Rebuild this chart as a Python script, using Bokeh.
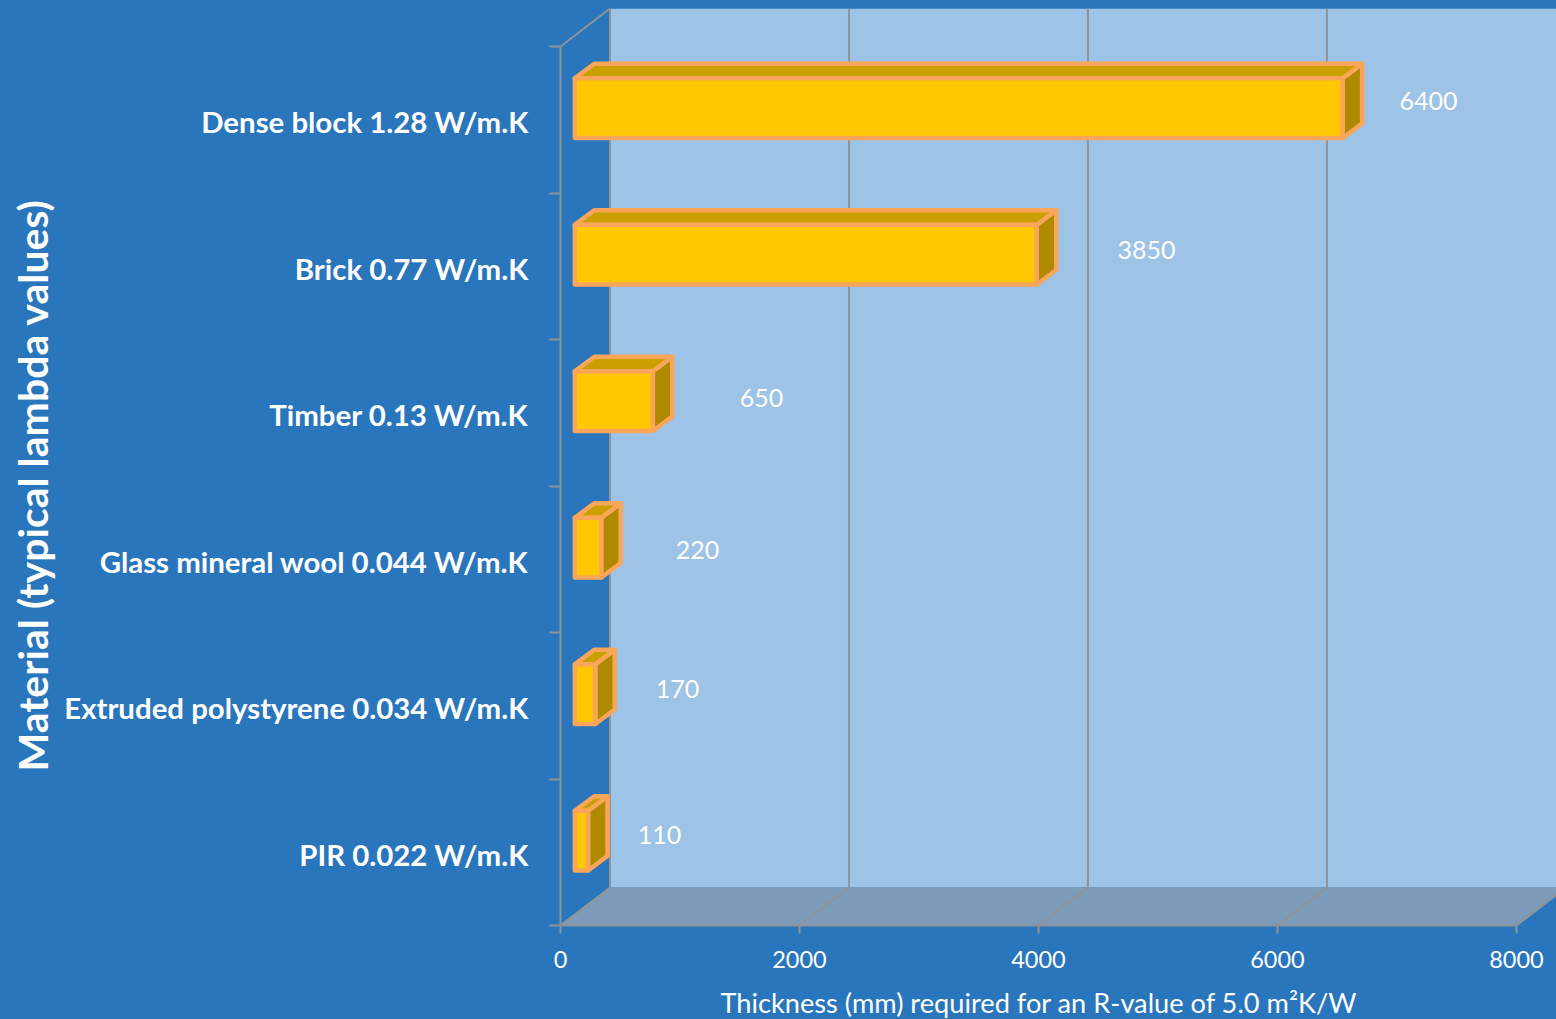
from bokeh.plotting import figure
from bokeh.models import FixedTicker, Range1d, Title
from bokeh.core.properties import value
from bokeh.embed import file_html
from bokeh.resources import INLINE

# data (bottom to top)
materials = ["PIR 0.022 W/m.K", "Extruded polystyrene 0.034 W/m.K", "Glass mineral wool 0.044 W/m.K",
             "Timber 0.13 W/m.K", "Brick 0.77 W/m.K", "Dense block 1.28 W/m.K"]
thickness = [110, 170, 220, 650, 3850, 6400]
x_ticks = [0, 2000, 4000, 6000, 8000]
x_title = "Thickness (mm) required for an R-value of 5.0 m\u00b2K/W"
y_title = "Material (typical lambda values)"

# label placement relative to each bar, in axis units
label_dx = [718, 809, 926, 1032, 1054, 864]
label_dy = [0.621, 0.611, 0.56, 0.604, 0.614, 0.625]

# style
BG, WALL, FLOOR, GRID = "#2a76bc", "#9dc3e6", "#7e9bb9", "#8e9499"
FRONT, TOP, SIDE, EDGE = "#ffc800", "#c9a000", "#af8a00", "#f9a65a"
FONT = "Lato"
WALL_DX, WALL_DY = 414, 0.2594
BAR_DX, BAR_DY = 163, 0.099
BAR_X0, BAR_K = 120, 1.004
BAR_Y0, BAR_Y1 = 0.375, 0.783
X_END = 8335

p = figure(width=1556, height=1019, frame_width=996, frame_height=917,
           output_backend="svg", toolbar_location=None,
           x_range=Range1d(0, X_END), y_range=Range1d(0, 6 + WALL_DY),
           background_fill_color=None, border_fill_color=BG, outline_line_color=None,
           min_border_left=560, min_border_right=0, min_border_top=8, min_border_bottom=94,
           styles={"background-color": BG})
p.grid.visible = False

# back wall and floor
right = 8000 + WALL_DX
p.patch([WALL_DX, right, right, WALL_DX], [WALL_DY, WALL_DY, 6 + WALL_DY, 6 + WALL_DY], color=WALL, line_width=0)
p.patch([0, WALL_DX, right, 8000], [0, WALL_DY, WALL_DY, 0], color=FLOOR, line_width=0)

# gridlines on wall and floor
gx, gy = [], []
for t in x_ticks[:-1]:
    gx.append([t, t + WALL_DX, t + WALL_DX])
    gy.append([0, WALL_DY, 6 + WALL_DY])
gx.append([0, WALL_DX])
gy.append([6, 6 + WALL_DY])
gx.append([8000, right])
gy.append([0, WALL_DY])
p.multi_line(gx, gy, line_color=GRID, line_width=2)

# 3D bars
sx, sy, tx, ty, fx, fy = [], [], [], [], [], []
for i, v in enumerate(thickness):
    x0, x1 = BAR_X0, BAR_X0 + v * BAR_K
    y0, y1 = i + BAR_Y0, i + BAR_Y1
    fx.append([x0, x1, x1, x0]); fy.append([y0, y0, y1, y1])
    tx.append([x0, x1, x1 + BAR_DX, x0 + BAR_DX]); ty.append([y1, y1, y1 + BAR_DY, y1 + BAR_DY])
    sx.append([x1, x1 + BAR_DX, x1 + BAR_DX, x1]); sy.append([y0, y0 + BAR_DY, y1 + BAR_DY, y1])
for xs, ys, col in ((sx, sy, SIDE), (tx, ty, TOP), (fx, fy, FRONT)):
    p.patches(xs, ys, fill_color=col, line_color=EDGE, line_width=4.5, line_join="round")

# value labels
p.text([v + d for v, d in zip(thickness, label_dx)],
       [i + d for i, d in enumerate(label_dy)],
       text=[str(v) for v in thickness], text_color="white", text_font=value(FONT),
       text_font_size="25px", text_align="center", text_baseline="middle")

# axes
xa = p.xaxis[0]
xa.ticker = FixedTicker(ticks=x_ticks)
xa.bounds = (0, 8000)
xa.axis_line_color = GRID
xa.axis_line_width = 2
xa.major_tick_line_color = GRID
xa.major_tick_line_width = 2
xa.major_tick_in = 0
xa.major_tick_out = 8
xa.minor_tick_line_color = None
xa.major_label_standoff = 17
xa.major_label_text_color = "white"
xa.major_label_text_font = FONT
xa.major_label_text_font_size = "23.5px"

centers = [i + 0.485 for i in range(len(materials))]
ya = p.yaxis[0]
ya.ticker = FixedTicker(ticks=centers, minor_ticks=list(range(len(materials) + 1)))
ya.bounds = (0, len(materials))
ya.major_label_overrides = dict(zip(centers, materials))
ya.axis_line_color = GRID
ya.axis_line_width = 2
ya.major_tick_line_color = None
ya.major_tick_in = 0
ya.major_tick_out = 0
ya.minor_tick_line_color = GRID
ya.minor_tick_line_width = 2
ya.minor_tick_in = 0
ya.minor_tick_out = 11
ya.major_label_standoff = 21
ya.major_label_text_color = "white"
ya.major_label_text_font = FONT
ya.major_label_text_font_style = "bold"
ya.major_label_text_font_size = "29.4px"

# axis titles
p.add_layout(Title(text=x_title, text_color="white", text_font=FONT, text_font_style="normal",
                   text_font_size="27.2px", align="left", offset=160, standoff=26), "below")
p.add_layout(Title(text=y_title, text_color="white", text_font=FONT, text_font_style="bold",
                   text_font_size="41px", align="left", offset=154, standoff=10), "left")

open("out.html", "w").write(file_html(p, INLINE))
